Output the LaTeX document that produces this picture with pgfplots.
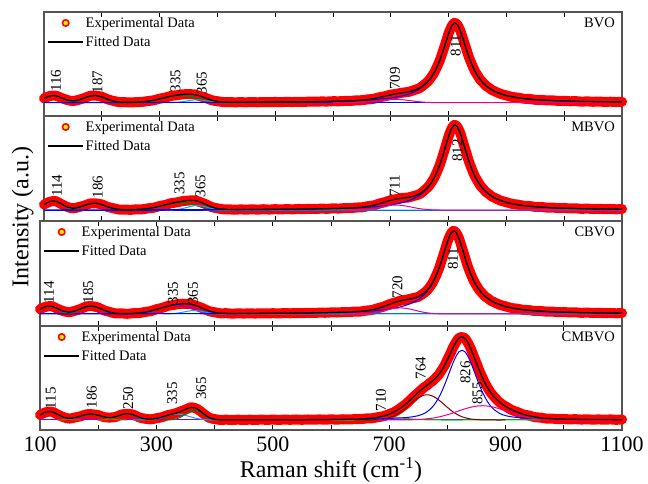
\documentclass[border=0pt]{standalone}
\usepackage{pgfplots}
\pgfplotsset{compat=1.18}
\usepackage{pgfplotstable}
\usepackage{fontspec}
\setmainfont{Liberation Serif}

\definecolor{axisgray}{RGB}{85,85,85}
\definecolor{olivec}{RGB}{128,128,0}
\definecolor{dgreen}{RGB}{0,128,0}
\definecolor{wine}{RGB}{128,0,0}
\definecolor{violetc}{RGB}{128,0,255}
\definecolor{lgreen}{RGB}{0,220,0}

\newcommand{\lgfont}{\fontsize{14.5bp}{16bp}\selectfont}
\newcommand{\pkfont}{\fontsize{15bp}{17bp}\selectfont}

% ---------------- spectra: x, measured, fitted envelope ----------------
\pgfplotstableread{
x exp fit
100 0.053 0.051
110 0.080 0.081
120 0.086 0.084
130 0.058 0.059
140 0.033 0.031
150 0.020 0.021
160 0.035 0.033
170 0.057 0.058
180 0.083 0.081
190 0.085 0.086
200 0.071 0.069
210 0.041 0.042
220 0.022 0.020
230 0.007 0.008
240 0.006 0.005
250 0.003 0.004
260 0.007 0.006
270 0.010 0.011
280 0.020 0.018
290 0.029 0.030
300 0.048 0.046
310 0.062 0.063
320 0.082 0.080
330 0.090 0.091
340 0.101 0.099
350 0.102 0.103
360 0.100 0.098
370 0.079 0.081
380 0.057 0.055
390 0.030 0.031
400 0.018 0.016
410 0.008 0.009
420 0.007 0.006
430 0.005 0.006
440 0.006 0.005
450 0.005 0.006
460 0.007 0.006
470 0.005 0.006
480 0.008 0.007
490 0.006 0.007
500 0.009 0.008
510 0.007 0.008
520 0.010 0.009
530 0.008 0.009
540 0.011 0.010
550 0.010 0.011
560 0.013 0.012
570 0.012 0.013
580 0.015 0.014
590 0.014 0.015
600 0.018 0.017
610 0.017 0.018
620 0.021 0.020
630 0.021 0.022
640 0.028 0.026
650 0.030 0.031
660 0.040 0.038
670 0.047 0.048
680 0.065 0.063
690 0.078 0.079
700 0.097 0.095
710 0.107 0.109
720 0.121 0.119
730 0.129 0.131
740 0.151 0.149
750 0.176 0.178
760 0.230 0.228
765 0.262 0.264
770 0.309 0.307
775 0.361 0.363
780 0.434 0.432
785 0.514 0.516
790 0.616 0.614
795 0.722 0.724
800 0.833 0.831
805 0.916 0.918
810 0.961 0.959
815 0.939 0.941
820 0.872 0.870
825 0.766 0.768
830 0.660 0.658
835 0.551 0.553
840 0.465 0.463
845 0.386 0.388
850 0.328 0.326
855 0.275 0.277
860 0.238 0.236
865 0.201 0.203
870 0.179 0.177
875 0.152 0.154
880 0.137 0.135
890 0.106 0.108
900 0.088 0.086
910 0.069 0.071
920 0.061 0.059
930 0.048 0.050
940 0.045 0.043
950 0.035 0.037
960 0.035 0.033
970 0.027 0.029
980 0.028 0.026
990 0.021 0.023
1000 0.023 0.021
1010 0.017 0.019
1020 0.019 0.017
1030 0.013 0.015
1040 0.016 0.014
1050 0.011 0.013
1060 0.014 0.012
1070 0.009 0.011
1080 0.012 0.010
1090 0.008 0.010
1100 0.011 0.009
}\tblBVO

\pgfplotstableread{
x exp fit
100 0.062 0.060
110 0.093 0.095
120 0.101 0.099
130 0.067 0.069
140 0.036 0.034
150 0.019 0.021
160 0.033 0.031
170 0.050 0.052
180 0.074 0.072
190 0.074 0.076
200 0.063 0.061
210 0.035 0.037
220 0.020 0.018
230 0.005 0.007
240 0.005 0.003
250 0.002 0.004
260 0.008 0.006
270 0.008 0.010
280 0.019 0.017
290 0.026 0.028
300 0.045 0.043
310 0.057 0.059
320 0.077 0.075
330 0.086 0.088
340 0.101 0.099
350 0.106 0.108
360 0.110 0.108
370 0.090 0.092
380 0.065 0.063
390 0.033 0.035
400 0.019 0.017
410 0.008 0.010
420 0.008 0.006
430 0.003 0.005
440 0.007 0.005
450 0.004 0.006
460 0.008 0.006
470 0.004 0.006
480 0.009 0.007
490 0.005 0.007
500 0.010 0.008
510 0.006 0.008
520 0.011 0.009
530 0.007 0.009
540 0.012 0.010
550 0.009 0.011
560 0.014 0.012
570 0.011 0.013
580 0.016 0.014
590 0.013 0.015
600 0.019 0.017
610 0.016 0.018
620 0.022 0.020
630 0.020 0.022
640 0.028 0.026
650 0.030 0.032
660 0.043 0.041
670 0.051 0.053
680 0.073 0.071
690 0.089 0.091
700 0.112 0.110
710 0.123 0.125
720 0.136 0.134
730 0.141 0.143
740 0.159 0.157
750 0.180 0.182
760 0.233 0.231
765 0.263 0.265
770 0.310 0.308
775 0.362 0.364
780 0.434 0.432
785 0.514 0.516
790 0.616 0.614
795 0.722 0.724
800 0.833 0.831
805 0.916 0.918
810 0.961 0.959
815 0.939 0.941
820 0.872 0.870
825 0.766 0.768
830 0.660 0.658
835 0.551 0.553
840 0.465 0.463
845 0.386 0.388
850 0.328 0.326
855 0.275 0.277
860 0.238 0.236
865 0.201 0.203
870 0.179 0.177
875 0.152 0.154
880 0.137 0.135
890 0.106 0.108
900 0.088 0.086
910 0.069 0.071
920 0.061 0.059
930 0.048 0.050
940 0.045 0.043
950 0.035 0.037
960 0.035 0.033
970 0.027 0.029
980 0.028 0.026
990 0.021 0.023
1000 0.023 0.021
1010 0.017 0.019
1020 0.019 0.017
1030 0.013 0.015
1040 0.016 0.014
1050 0.011 0.013
1060 0.014 0.012
1070 0.009 0.011
1080 0.012 0.010
1090 0.008 0.010
1100 0.011 0.009
}\tblMBVO

\pgfplotstableread{
x exp fit
100 0.056 0.054
110 0.083 0.085
120 0.091 0.089
130 0.060 0.062
140 0.034 0.032
150 0.021 0.023
160 0.037 0.035
170 0.059 0.061
180 0.088 0.086
190 0.089 0.091
200 0.075 0.073
210 0.042 0.044
220 0.023 0.021
230 0.006 0.008
240 0.007 0.005
250 0.002 0.004
260 0.009 0.007
270 0.010 0.012
280 0.023 0.021
290 0.033 0.035
300 0.055 0.053
310 0.071 0.073
320 0.094 0.092
330 0.105 0.107
340 0.118 0.116
350 0.117 0.119
360 0.114 0.112
370 0.090 0.092
380 0.065 0.063
390 0.034 0.036
400 0.020 0.018
410 0.008 0.010
420 0.009 0.007
430 0.004 0.006
440 0.007 0.005
450 0.005 0.006
460 0.007 0.006
470 0.005 0.006
480 0.008 0.007
490 0.006 0.007
500 0.009 0.008
510 0.007 0.008
520 0.010 0.009
530 0.008 0.009
540 0.011 0.010
550 0.010 0.011
560 0.013 0.012
570 0.012 0.013
580 0.015 0.014
590 0.014 0.015
600 0.018 0.017
610 0.017 0.018
620 0.021 0.020
630 0.020 0.022
640 0.028 0.026
650 0.028 0.030
660 0.039 0.037
670 0.045 0.047
680 0.066 0.064
690 0.084 0.086
700 0.112 0.110
710 0.133 0.135
720 0.155 0.153
730 0.165 0.167
740 0.182 0.180
750 0.198 0.200
760 0.244 0.242
765 0.272 0.274
770 0.316 0.314
775 0.366 0.368
780 0.437 0.435
785 0.516 0.518
790 0.617 0.615
795 0.723 0.725
800 0.833 0.831
805 0.916 0.918
810 0.961 0.959
815 0.939 0.941
820 0.872 0.870
825 0.766 0.768
830 0.660 0.658
835 0.551 0.553
840 0.465 0.463
845 0.386 0.388
850 0.328 0.326
855 0.275 0.277
860 0.238 0.236
865 0.201 0.203
870 0.179 0.177
875 0.152 0.154
880 0.137 0.135
890 0.106 0.108
900 0.088 0.086
910 0.069 0.071
920 0.061 0.059
930 0.048 0.050
940 0.045 0.043
950 0.035 0.037
960 0.035 0.033
970 0.027 0.029
980 0.028 0.026
990 0.021 0.023
1000 0.023 0.021
1010 0.017 0.019
1020 0.019 0.017
1030 0.013 0.015
1040 0.016 0.014
1050 0.011 0.013
1060 0.014 0.012
1070 0.009 0.011
1080 0.012 0.010
1090 0.008 0.010
1100 0.011 0.009
}\tblCBVO

\pgfplotstableread{
x exp fit
100 0.061 0.059
110 0.092 0.094
120 0.100 0.098
130 0.066 0.068
140 0.035 0.033
150 0.017 0.019
160 0.030 0.028
170 0.045 0.047
180 0.068 0.066
190 0.068 0.070
200 0.058 0.056
210 0.034 0.036
220 0.029 0.027
230 0.036 0.038
240 0.065 0.063
250 0.074 0.076
260 0.064 0.062
270 0.032 0.034
280 0.016 0.014
290 0.008 0.010
300 0.021 0.019
310 0.034 0.036
320 0.059 0.057
330 0.073 0.075
340 0.098 0.096
350 0.124 0.126
360 0.152 0.150
370 0.131 0.133
380 0.081 0.079
390 0.029 0.031
400 0.011 0.009
410 0.001 0.003
420 0.004 0.002
430 0.000 0.002
440 0.004 0.002
450 0.000 0.002
460 0.004 0.002
470 0.000 0.002
480 0.005 0.003
490 0.001 0.003
500 0.005 0.003
510 0.001 0.003
520 0.005 0.003
530 0.002 0.004
540 0.006 0.004
550 0.002 0.004
560 0.006 0.004
570 0.003 0.005
580 0.007 0.005
590 0.003 0.005
600 0.008 0.006
610 0.004 0.006
620 0.009 0.007
630 0.006 0.008
640 0.010 0.008
650 0.009 0.011
660 0.018 0.016
670 0.020 0.022
680 0.033 0.031
690 0.045 0.047
700 0.071 0.069
710 0.099 0.101
720 0.146 0.144
730 0.198 0.200
740 0.266 0.264
750 0.327 0.329
760 0.389 0.387
765 0.412 0.414
770 0.442 0.440
775 0.466 0.468
780 0.502 0.500
785 0.538 0.540
790 0.591 0.589
795 0.646 0.648
800 0.719 0.717
805 0.788 0.790
810 0.867 0.865
815 0.928 0.930
820 0.977 0.975
825 0.988 0.990
830 0.974 0.972
835 0.920 0.922
840 0.851 0.849
845 0.762 0.764
850 0.676 0.674
855 0.585 0.587
860 0.508 0.506
865 0.433 0.435
870 0.375 0.373
875 0.319 0.321
880 0.279 0.277
890 0.207 0.209
900 0.163 0.161
910 0.121 0.123
920 0.095 0.093
930 0.067 0.069
940 0.053 0.051
950 0.034 0.036
960 0.028 0.026
970 0.017 0.019
980 0.017 0.015
990 0.010 0.012
1000 0.012 0.010
1010 0.007 0.009
1020 0.010 0.008
1030 0.005 0.007
1040 0.008 0.006
1050 0.004 0.006
1060 0.007 0.005
1070 0.003 0.005
1080 0.007 0.005
1090 0.002 0.004
1100 0.006 0.004
}\tblCMBVO

% main V-O stretching band (~811 cm-1), shared by BVO, MBVO and CBVO fits
\pgfplotstableread{
x y
100 0.002
200 0.002
300 0.003
400 0.004
450 0.006
500 0.008
550 0.011
560 0.012
570 0.013
580 0.014
590 0.015
600 0.017
610 0.018
620 0.020
630 0.022
640 0.025
650 0.028
660 0.032
670 0.036
680 0.042
690 0.049
700 0.057
710 0.069
720 0.083
730 0.103
740 0.130
750 0.167
760 0.223
765 0.260
770 0.305
775 0.362
780 0.431
785 0.516
790 0.614
795 0.724
800 0.831
805 0.918
810 0.959
815 0.941
820 0.870
825 0.768
830 0.658
835 0.553
840 0.463
845 0.388
850 0.326
855 0.277
860 0.236
865 0.203
870 0.177
875 0.154
880 0.135
890 0.108
900 0.086
910 0.071
920 0.059
930 0.050
940 0.043
950 0.037
960 0.033
970 0.029
980 0.026
990 0.023
1000 0.021
1010 0.019
1020 0.017
1030 0.015
1040 0.014
1050 0.013
1060 0.012
1070 0.011
1080 0.010
1090 0.010
1100 0.009
}\tblMain

\pgfplotsset{
  panel/.style={
    scale only axis, xmin=100, xmax=1100,
    xtick={100,300,...,1100}, minor xtick={200,400,...,1000},
    xtick pos=both, tick align=inside,
    major tick length=5bp, minor tick length=5bp,
    every tick/.style={black, line width=0.9bp},
    ytick=\empty, xticklabels={},
    axis line style={draw=axisgray, line width=1.2bp},
    clip=false,
    legend cell align=left,
    legend style={at={(0,1)}, anchor=north west, draw=none, fill=none,
      xshift=3bp, yshift=-4bp, font=\lgfont, row sep=5.5bp, inner sep=0pt,
      nodes={inner sep=1bp}},
  },
  expband/.style={red, line width=10bp, line join=round, line cap=round, smooth,
    legend image code/.code={
      \path[draw=none, fill=none] (0bp,-4bp) rectangle (37.5bp,4bp);
      \path[draw=red, fill=yellow, line width=1.6bp] (18.5bp,0bp) circle (3.2bp);}},
  fitline/.style={black, line width=1.3bp, smooth,
    legend image code/.code={
      \path[draw=none, fill=none] (0bp,-4bp) rectangle (37.5bp,4bp);
      \path[draw=black, line width=1.3bp] (1bp,0bp) -- (36bp,0bp);}},
  comp/.style={line width=1bp, smooth, forget plot},
  base/.style={line width=1bp, forget plot},
}
\tikzset{
  pk/.style={rotate=90, anchor=west, inner sep=0pt, font=\pkfont},
  tag/.style={anchor=north east, inner sep=0pt, font=\lgfont},
}

\begin{document}
\begin{tikzpicture}
\path[use as bounding box] (-40bp,-54bp) rectangle (608bp,430bp);

% ---------------- BVO ----------------
\begin{axis}[panel, at={(4bp,314bp)}, anchor=south west, width=578bp, height=104bp,
  ymin=-0.160, ymax=1.0915]
\addplot[expband] table[x=x, y=exp] {\tblBVO};
\addlegendentry{Experimental Data}
\addplot[base, blue] coordinates {(100,0) (1100,0)};
\addplot[comp, olivec] coordinates {(100,0.049)(110,0.079)(120,0.082)(130,0.056)(140,0.025)(150,0.007)(160,0.001)(170,0)};
\addplot[comp, dgreen] coordinates {(130,0.001)(140,0.004)(150,0.012)(160,0.030)(170,0.056)(180,0.079)(190,0.084)(200,0.067)(210,0.040)(220,0.018)(230,0.006)(240,0.002)(250,0)};
\addplot[comp, dgreen] coordinates {(230,0)(240,0.001)(250,0.001)(260,0.003)(270,0.008)(280,0.015)(290,0.027)(300,0.043)(310,0.060)(320,0.075)(330,0.084)(340,0.084)(350,0.075)(360,0.060)(370,0.043)(380,0.027)(390,0.015)(400,0.008)(410,0.003)(420,0.001)(430,0.001)(440,0)};
\addplot[comp, cyan] coordinates {(310,0)(320,0.001)(330,0.004)(340,0.012)(350,0.024)(360,0.034)(370,0.034)(380,0.024)(390,0.012)(400,0.004)(410,0.001)(420,0)};
\addplot[comp, blue] table[x=x, y=y] {\tblMain};
\addplot[comp, magenta] coordinates {(600,0)(620,0)(630,0)(640,0.001)(650,0.003)(660,0.006)(670,0.012)(680,0.021)(690,0.030)(700,0.038)(710,0.040)(720,0.036)(730,0.028)(740,0.019)(750,0.011)(760,0.005)(770,0.002)(780,0.001)(790,0)(800,0)(900,0)(1000,0)(1100,0)};
\addplot[fitline] table[x=x, y=fit] {\tblBVO};
\addlegendentry{Fitted Data}
\node[pk] at (axis cs:120.8,0.129) {116};
\node[pk] at (axis cs:192.6,0.113) {187};
\node[pk] at (axis cs:327.5,0.125) {335};
\node[pk] at (axis cs:372.8,0.101) {365};
\node[pk] at (axis cs:707,0.153) {709};
\node[pk] at (axis cs:812.5,0.554) {811};
\node[tag] at ([xshift=-7bp,yshift=-6bp]rel axis cs:1,1) {BVO};
\end{axis}

% ---------------- MBVO ----------------
\begin{axis}[panel, at={(4bp,209bp)}, anchor=south west, width=578bp, height=105bp,
  ymin=-0.124, ymax=1.061]
\addplot[expband] table[x=x, y=exp] {\tblMBVO};
\addlegendentry{Experimental Data}
\addplot[base, blue] coordinates {(100,0) (1100,0)};
\addplot[comp, olivec] coordinates {(100,0.058)(110,0.093)(120,0.097)(130,0.066)(140,0.029)(150,0.008)(160,0.002)(170,0)};
\addplot[comp, dgreen] coordinates {(130,0.001)(140,0.003)(150,0.011)(160,0.027)(170,0.050)(180,0.070)(190,0.074)(200,0.059)(210,0.035)(220,0.016)(230,0.005)(240,0.001)(250,0)};
\addplot[comp, dgreen] coordinates {(230,0)(240,0)(250,0.001)(260,0.003)(270,0.007)(280,0.014)(290,0.025)(300,0.040)(310,0.056)(320,0.070)(330,0.079)(340,0.079)(350,0.070)(360,0.056)(370,0.040)(380,0.025)(390,0.014)(400,0.007)(410,0.003)(420,0.001)(430,0)};
\addplot[comp, cyan] coordinates {(310,0)(320,0.002)(330,0.006)(340,0.017)(350,0.034)(360,0.048)(370,0.048)(380,0.034)(390,0.017)(400,0.006)(410,0.002)(420,0)(1100,0)};
\addplot[comp, blue] table[x=x, y=y] {\tblMain};
\addplot[comp, magenta] coordinates {(620,0)(630,0)(640,0.001)(650,0.004)(660,0.009)(670,0.017)(680,0.029)(690,0.042)(700,0.053)(710,0.056)(720,0.051)(730,0.040)(740,0.027)(750,0.015)(760,0.008)(770,0.003)(780,0.001)(790,0)(900,0)(1100,0)};
\addplot[fitline] table[x=x, y=fit] {\tblMBVO};
\addlegendentry{Fitted Data}
\node[pk] at (axis cs:122.5,0.150) {114};
\node[pk] at (axis cs:193,0.132) {186};
\node[pk] at (axis cs:334.4,0.169) {335};
\node[pk] at (axis cs:370.8,0.143) {365};
\node[pk] at (axis cs:706.7,0.150) {711};
\node[pk] at (axis cs:815.4,0.545) {812};
\node[tag] at ([xshift=-7bp,yshift=-6bp]rel axis cs:1,1) {MBVO};
\end{axis}

% ---------------- CBVO ----------------
\begin{axis}[panel, at={(0bp,104bp)}, anchor=south west, width=582bp, height=105bp,
  ymin=-0.139, ymax=1.075]
\addplot[expband] table[x=x, y=exp] {\tblCBVO};
\addlegendentry{Experimental Data}
\addplot[base, blue] coordinates {(100,0) (1100,0)};
\addplot[comp, olivec] coordinates {(100,0.052)(110,0.083)(120,0.087)(130,0.059)(140,0.026)(150,0.008)(160,0.001)(170,0)};
\addplot[comp, dgreen] coordinates {(130,0.001)(140,0.004)(150,0.013)(160,0.032)(170,0.059)(180,0.084)(190,0.089)(200,0.071)(210,0.042)(220,0.019)(230,0.006)(240,0.002)(250,0)};
\addplot[comp, violetc] coordinates {(230,0)(240,0.001)(250,0.002)(260,0.004)(270,0.009)(280,0.018)(290,0.032)(300,0.050)(310,0.070)(320,0.088)(330,0.099)(340,0.099)(350,0.088)(360,0.070)(370,0.050)(380,0.032)(390,0.018)(400,0.009)(410,0.004)(420,0.002)(430,0.001)(440,0)};
\addplot[comp, cyan] coordinates {(310,0)(320,0.001)(330,0.005)(340,0.014)(350,0.027)(360,0.038)(370,0.038)(380,0.027)(390,0.014)(400,0.005)(410,0.001)(420,0)(1100,0)};
\addplot[comp, blue] table[x=x, y=y] {\tblMain};
\addplot[comp, magenta] coordinates {(620,0)(630,0)(640,0.001)(650,0.002)(660,0.005)(670,0.011)(680,0.022)(690,0.037)(700,0.053)(710,0.066)(720,0.070)(730,0.064)(740,0.050)(750,0.033)(760,0.019)(770,0.009)(780,0.004)(790,0.001)(800,0)(900,0)(1100,0)};
\addplot[fitline] table[x=x, y=fit] {\tblCBVO};
\addlegendentry{Fitted Data}
\node[pk] at (axis cs:115.5,0.123) {114};
\node[pk] at (axis cs:183,0.123) {185};
\node[pk] at (axis cs:328.5,0.112) {335};
\node[pk] at (axis cs:363,0.104) {365};
\node[pk] at (axis cs:714,0.181) {720};
\node[pk] at (axis cs:809.6,0.508) {811};
\node[tag] at ([xshift=-7bp,yshift=-6bp]rel axis cs:1,1) {CBVO};
\end{axis}

% ---------------- CMBVO ----------------
\begin{axis}[panel, at={(0bp,0bp)}, anchor=south west, width=582bp, height=104bp,
  ymin=-0.119, ymax=1.118,
  xticklabels={100,300,500,700,900,1100},
  xticklabel style={font=\fontsize{22bp}{24bp}\selectfont, inner sep=0pt, yshift=-7bp},
  xlabel={Raman shift (cm\textsuperscript{-1})},
  xlabel style={font=\fontsize{24bp}{26bp}\selectfont, at={(axis description cs:0.5,0)},
    anchor=base, inner sep=0pt, yshift=-47bp}]
\addplot[expband] table[x=x, y=exp] {\tblCMBVO};
\addlegendentry{Experimental Data}
\addplot[base, violetc] coordinates {(100,0) (1100,0)};
\addplot[comp, olivec] coordinates {(100,0.058)(110,0.093)(120,0.097)(130,0.066)(140,0.029)(150,0.008)(160,0.002)(170,0)};
\addplot[comp, olivec] coordinates {(130,0.001)(140,0.003)(150,0.010)(160,0.025)(170,0.046)(180,0.065)(190,0.069)(200,0.055)(210,0.033)(220,0.015)(230,0.005)(240,0.001)(250,0)};
\addplot[comp, olivec] coordinates {(200,0)(210,0.002)(220,0.011)(230,0.032)(240,0.061)(250,0.075)(260,0.061)(270,0.032)(280,0.011)(290,0.002)(300,0)};
\addplot[comp, cyan] coordinates {(260,0)(270,0.001)(280,0.002)(290,0.007)(300,0.018)(310,0.035)(320,0.055)(330,0.068)(340,0.068)(350,0.055)(360,0.035)(370,0.018)(380,0.007)(390,0.002)(400,0.001)(410,0)};
\addplot[comp, dgreen] coordinates {(310,0)(320,0.001)(330,0.006)(340,0.027)(350,0.070)(360,0.113)(370,0.113)(380,0.070)(390,0.027)(400,0.006)(410,0.001)(420,0)};
\addplot[comp, lgreen] coordinates {(600,0)(640,0)(650,0.002)(660,0.004)(670,0.008)(680,0.013)(690,0.019)(700,0.023)(710,0.025)(720,0.023)(730,0.018)(740,0.012)(750,0.007)(760,0.003)(770,0.001)(780,0)(870,0)(960,0)};
\addplot[comp, wine] coordinates {(640,0)(660,0.001)(670,0.002)(680,0.005)(690,0.012)(700,0.028)(710,0.054)(720,0.095)(730,0.150)(740,0.211)(750,0.264)(760,0.296)(765,0.300)(770,0.296)(775,0.284)(780,0.264)(785,0.239)(790,0.211)(795,0.180)(800,0.150)(805,0.121)(810,0.095)(815,0.073)(820,0.054)(825,0.039)(830,0.028)(835,0.019)(840,0.012)(845,0.008)(850,0.005)(855,0.003)(860,0.002)(870,0.001)(880,0)(900,0)};
\addplot[comp, blue] coordinates {(500,0.003)(550,0.004)(600,0.006)(620,0.007)(640,0.008)(660,0.011)(680,0.013)(700,0.018)(710,0.022)(720,0.025)(730,0.030)(740,0.038)(750,0.052)(760,0.077)(765,0.098)(770,0.125)(775,0.161)(780,0.207)(785,0.265)(790,0.334)(795,0.415)(800,0.504)(805,0.596)(810,0.685)(815,0.760)(820,0.812)(825,0.830)(830,0.812)(835,0.760)(840,0.685)(845,0.596)(850,0.504)(855,0.415)(860,0.334)(865,0.265)(870,0.207)(875,0.161)(880,0.125)(890,0.077)(900,0.052)(910,0.038)(920,0.030)(930,0.025)(940,0.022)(950,0.018)(960,0.016)(970,0.013)(980,0.012)(990,0.011)(1000,0.009)(1020,0.008)(1040,0.006)(1060,0.005)(1080,0.005)(1100,0.004)};
\addplot[comp, magenta] coordinates {(680,0)(700,0)(720,0.001)(730,0.002)(740,0.003)(750,0.006)(760,0.011)(770,0.018)(780,0.029)(790,0.044)(800,0.063)(810,0.085)(820,0.109)(830,0.132)(840,0.152)(850,0.165)(860,0.170)(870,0.165)(880,0.152)(890,0.132)(900,0.109)(910,0.085)(920,0.063)(930,0.044)(940,0.029)(950,0.018)(960,0.011)(970,0.006)(980,0.003)(990,0.002)(1000,0.001)(1010,0)(1100,0)};
\addplot[fitline] table[x=x, y=fit] {\tblCMBVO};
\addlegendentry{Fitted Data}
\node[pk] at (axis cs:118.6,0.127) {115};
\node[pk] at (axis cs:188.8,0.139) {186};
\node[pk] at (axis cs:251.7,0.127) {250};
\node[pk] at (axis cs:327.3,0.178) {335};
\node[pk] at (axis cs:377,0.238) {365};
\node[pk] at (axis cs:686,0.099) {710};
\node[pk] at (axis cs:754,0.484) {764};
\node[pk] at (axis cs:831,0.428) {826};
\node[pk] at (axis cs:851.7,0.178) {855};
\node[tag] at ([xshift=-7bp,yshift=-6bp]rel axis cs:1,1) {CMBVO};
\end{axis}

\node[rotate=90, font=\fontsize{24bp}{26bp}\selectfont] at (-17.3bp,213bp) {Intensity (a.u.)};
\end{tikzpicture}
\end{document}
